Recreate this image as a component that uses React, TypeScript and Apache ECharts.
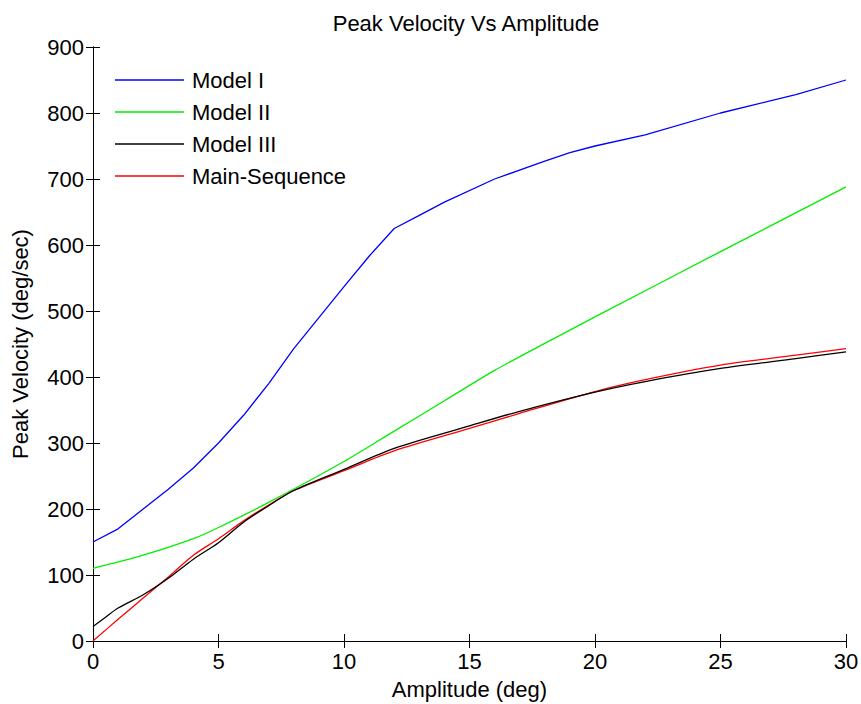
import React, { useEffect, useRef } from "react";
import * as echarts from "echarts";

const amp1 = [0, 1, 2, 3, 4, 5, 6, 7, 8, 9, 10, 11, 12, 13, 14, 16, 18, 19, 20, 22, 25, 28, 30];
const model1 = [150, 170, 200, 230, 262, 300, 342, 390, 443, 490, 537, 583, 625, 645, 665, 700, 727, 740, 750, 767, 800, 828, 850];

const amp2 = [0, 2, 4, 5, 7, 10, 12, 14, 16, 18, 20, 25, 30];
const model2 = [110, 130, 155, 172, 210, 272, 318, 364, 410, 451, 491, 590, 688];

const amp3 = [0, 0.5, 1, 2, 3, 4, 5, 6, 7, 8, 10, 12, 15, 17, 20, 22, 25, 28, 30];
const model3 = [22, 36, 50, 70, 95, 124, 149, 180, 205, 228, 260, 292, 326, 348, 377, 393, 413, 428, 438];

const ampMS = [0, 1, 2, 3, 4, 5, 6, 7, 8, 10, 12, 15, 17, 20, 22, 25, 28, 30];
const mainSeq = [0, 33, 65, 97, 130, 155, 182, 206, 228, 258, 288, 322, 345, 378, 396, 418, 433, 443];

const seriesNames = ["Model I", "Model II", "Model III", "Main-Sequence"];
const seriesColors = ["#0000ff", "#00ee00", "#000000", "#ff0000"];

const pairs = (xs: number[], ys: number[]) => xs.map((x, i) => [x, ys[i]]);

const FONT = "Liberation Sans";
const FS = 22;

export default function App() {
  const ref = useRef<HTMLDivElement>(null);
  useEffect(() => {
    const chart = echarts.init(ref.current!, null, { renderer: "svg" });
    const datasets = [pairs(amp1, model1), pairs(amp2, model2), pairs(amp3, model3), pairs(ampMS, mainSeq)];
    const axisCommon = {
      axisLine: { show: true, lineStyle: { color: "#000", width: 1 } },
      axisTick: { show: true, inside: true, length: 7, lineStyle: { color: "#000" } },
      splitLine: { show: false },
    };
    chart.setOption({
      animation: false,
      backgroundColor: "#fff",
      textStyle: { fontFamily: FONT },
      title: {
        text: "Peak Velocity Vs Amplitude",
        left: 466,
        textAlign: "center",
        top: 12,
        padding: 0,
        textStyle: { fontFamily: FONT, fontSize: FS, fontWeight: "normal", color: "#000" },
      },
      legend: {
        orient: "vertical",
        left: 110,
        top: 64,
        icon: "rect",
        itemWidth: 69,
        itemHeight: 1.5,
        itemGap: 10,
        data: seriesNames,
        textStyle: { fontFamily: FONT, fontSize: FS, color: "#000", padding: [0, 0, 0, 3] },
      },
      grid: { left: 93, right: 15, top: 47, bottom: 63, containLabel: false, outerBoundsMode: "none" },
      xAxis: [
        {
          type: "value",
          min: 0,
          max: 30,
          interval: 5,
          name: "Amplitude (deg)",
          nameLocation: "middle",
          nameGap: 37,
          nameTextStyle: { fontFamily: FONT, fontSize: FS, color: "#000" },
          axisLabel: { fontFamily: FONT, fontSize: FS, color: "#000", margin: 9 },
          ...axisCommon,
        },
        {
          type: "value",
          position: "top",
          min: 0,
          max: 30,
          interval: 5,
          axisLabel: { show: false },
          ...axisCommon,
        },
      ],
      yAxis: [
        {
          type: "value",
          min: 0,
          max: 900,
          interval: 100,
          name: "Peak Velocity (deg/sec)",
          nameLocation: "middle",
          nameGap: 62,
          nameTextStyle: { fontFamily: FONT, fontSize: FS, color: "#000" },
          axisLabel: { fontFamily: FONT, fontSize: FS, color: "#000", margin: 9 },
          ...axisCommon,
        },
        {
          type: "value",
          position: "right",
          min: 0,
          max: 900,
          interval: 100,
          axisLabel: { show: false },
          ...axisCommon,
        },
      ],
      series: datasets.map((d, i) => ({
        name: seriesNames[i],
        type: "line",
        data: d,
        showSymbol: false,
        symbol: "none",
        smooth: i === 0 ? false : 0.3,
        color: seriesColors[i],
        lineStyle: { color: seriesColors[i], width: 1.3 },
        itemStyle: { color: seriesColors[i] },
        z: i === 3 ? 2 : 3,
      })),
    });
    return () => chart.dispose();
  }, []);
  return <div ref={ref} style={{ position: "absolute", left: 0, top: 0, width: 861, height: 704 }} />;
}
